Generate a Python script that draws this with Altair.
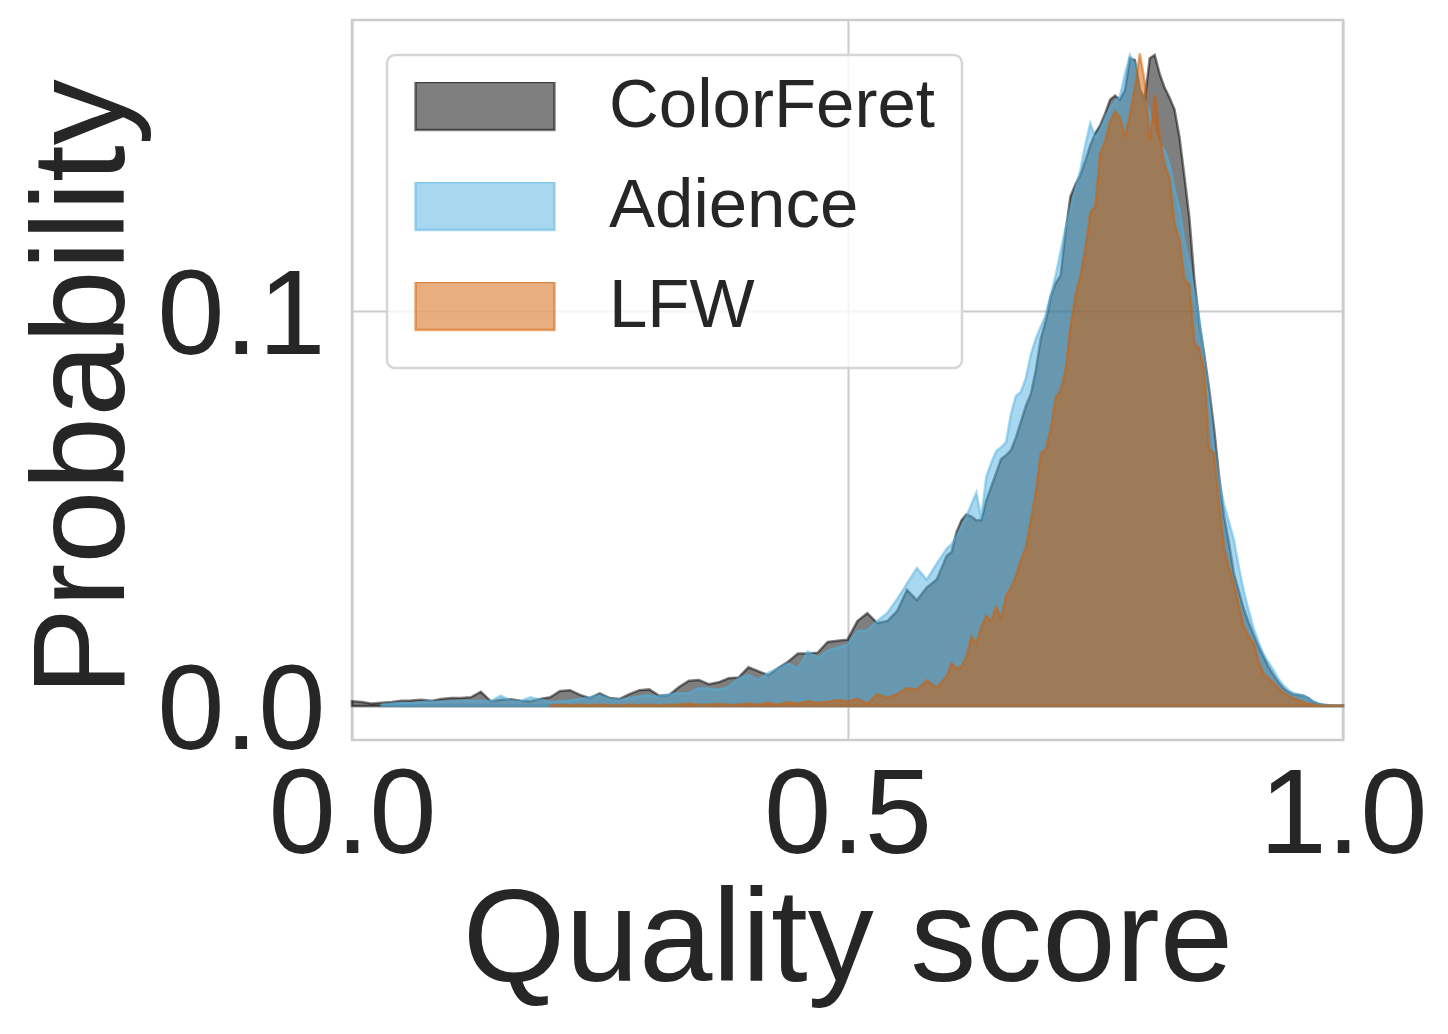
import altair as alt
import pandas as pd

# ---- data -------------------------------------------------------------
# x grid: 0.00 .. 0.59 step 0.01, then 0.600 .. 1.000 step 0.005
x_low = [round(i * 0.01, 3) for i in range(60)]
x_high = [round(0.6 + i * 0.005, 3) for i in range(81)]
x_grid = x_low + x_high

series_names = ["ColorFeret", "Adience", "LFW"]
# half-transparent colours (fill and edge each at 50 %)
series_colors = ["rgba(0,0,0,0.5)", "rgba(81,177,225,0.5)", "rgba(209,93,1,0.5)"]

colorferet_low = [
    0.0012, 0.0010, 0.0006, 0.0008, 0.0010, 0.0013, 0.0014, 0.0016, 0.0013, 0.0018,
    0.0020, 0.0020, 0.0022, 0.0036, 0.0012, 0.0016, 0.0017, 0.0013, 0.0012, 0.0018,
    0.0022, 0.0038, 0.0040, 0.0028, 0.0020, 0.0032, 0.0020, 0.0018, 0.0030, 0.0040,
    0.0042, 0.0026, 0.0028, 0.0048, 0.0064, 0.0066, 0.0055, 0.0060, 0.0070, 0.0072,
    0.0098, 0.0088, 0.0078, 0.0096, 0.0112, 0.0133, 0.0133, 0.0135, 0.0162, 0.0165,
    0.0168, 0.0215, 0.0235, 0.0210, 0.0215, 0.0240, 0.0294, 0.0268, 0.0300, 0.0320,
]
colorferet_high = [
    0.0380, 0.0390, 0.0440, 0.0470, 0.0485, 0.0480, 0.0470, 0.0470, 0.0520, 0.0555,
    0.0590, 0.0625, 0.0635, 0.0648, 0.0680, 0.0720, 0.0760, 0.0790, 0.0850, 0.0930,
    0.0975, 0.1035, 0.1070, 0.1090, 0.1200, 0.1290, 0.1320, 0.1345, 0.1380, 0.1420,
    0.1450, 0.1470, 0.1500, 0.1535, 0.1545, 0.1535, 0.1560, 0.1640, 0.1635, 0.1560,
    0.1535, 0.1640, 0.1648, 0.1600, 0.1565, 0.1540, 0.1510, 0.1440, 0.1340, 0.1235,
    0.1080, 0.0970, 0.0890, 0.0800, 0.0700, 0.0580, 0.0480, 0.0412, 0.0335, 0.0290,
    0.0245, 0.0210, 0.0180, 0.0150, 0.0125, 0.0098, 0.0078, 0.0060, 0.0045, 0.0036,
    0.0030, 0.0028, 0.0026, 0.0020, 0.0010, 0.0006, 0.0003, 0.0002, 0.0001, 0.0001,
    0.0001,
]

adience_low = [
    None, None, None, 0.0004, 0.0006, 0.0008, 0.0007, 0.0010, 0.0012, 0.0010,
    0.0012, 0.0013, 0.0013, 0.0014, 0.0012, 0.0026, 0.0014, 0.0012, 0.0022, 0.0016,
    0.0010, 0.0012, 0.0014, 0.0018, 0.0022, 0.0028, 0.0018, 0.0016, 0.0020, 0.0025,
    0.0027, 0.0024, 0.0030, 0.0032, 0.0033, 0.0045, 0.0044, 0.0042, 0.0048, 0.0070,
    0.0078, 0.0066, 0.0084, 0.0095, 0.0108, 0.0095, 0.0138, 0.0122, 0.0140, 0.0148,
    0.0155, 0.0190, 0.0192, 0.0215, 0.0235, 0.0270, 0.0310, 0.0349, 0.0320, 0.0360,
]
adience_high = [
    0.0398, 0.0410, 0.0430, 0.0455, 0.0480, 0.0510, 0.0540, 0.0475, 0.0580, 0.0615,
    0.0645, 0.0655, 0.0668, 0.0740, 0.0785, 0.0795, 0.0830, 0.0890, 0.0930, 0.0960,
    0.0990, 0.1040, 0.1090, 0.1150, 0.1210, 0.1260, 0.1310, 0.1357, 0.1420, 0.1475,
    0.1440, 0.1460, 0.1490, 0.1515, 0.1530, 0.1545, 0.1600, 0.1648, 0.1625, 0.1560,
    0.1535, 0.1505, 0.1450, 0.1420, 0.1408, 0.1370, 0.1310, 0.1260, 0.1180, 0.1120,
    0.1050, 0.0980, 0.0880, 0.0780, 0.0660, 0.0570, 0.0510, 0.0465, 0.0420, 0.0350,
    0.0290, 0.0240, 0.0195, 0.0160, 0.0130, 0.0110, 0.0090, 0.0068, 0.0052, 0.0040,
    0.0032, 0.0030, 0.0026, 0.0020, 0.0012, 0.0006, 0.0003, 0.0002, 0.0001, 0.0001,
    0.0001,
]

lfw_low = [
    None, None, None, None, None, None, None, None, None, None,
    None, None, None, None, None, None, None, None, None, None,
    0.0002, 0.0003, 0.0002, 0.0003, 0.0002, 0.0003, 0.0002, 0.0002, 0.0003, 0.0002,
    0.0003, 0.0002, 0.0003, 0.0004, 0.0006, 0.0003, 0.0004, 0.0005, 0.0003, 0.0004,
    0.0006, 0.0004, 0.0008, 0.0004, 0.0010, 0.0006, 0.0012, 0.0008, 0.0011, 0.0015,
    0.0012, 0.0018, 0.0006, 0.0030, 0.0021, 0.0030, 0.0045, 0.0042, 0.0065, 0.0046,
]
lfw_high = [
    0.0075, 0.0108, 0.0095, 0.0100, 0.0125, 0.0176, 0.0159, 0.0200, 0.0228, 0.0216,
    0.0251, 0.0222, 0.0280, 0.0300, 0.0330, 0.0370, 0.0402, 0.0470, 0.0540, 0.0639,
    0.0650, 0.0700, 0.0780, 0.0800, 0.0850, 0.0960, 0.1040, 0.1090, 0.1156, 0.1250,
    0.1265, 0.1400, 0.1430, 0.1480, 0.1505, 0.1490, 0.1440, 0.1500, 0.1565, 0.1652,
    0.1580, 0.1430, 0.1547, 0.1440, 0.1370, 0.1336, 0.1220, 0.1180, 0.1080, 0.1067,
    0.0920, 0.0905, 0.0850, 0.0650, 0.0640, 0.0510, 0.0400, 0.0350, 0.0310, 0.0253,
    0.0200, 0.0175, 0.0160, 0.0110, 0.0082, 0.0070, 0.0058, 0.0045, 0.0033, 0.0026,
    0.0020, 0.0014, 0.0010, 0.0006, 0.0004, 0.0002, 0.0001, 0.0001, 0.0001, 0.0001,
    0.0001,
]

x_ticks = [0.0, 0.5, 1.0]
y_ticks = [0.0, 0.1]

series_values = {
    "ColorFeret": colorferet_low + colorferet_high,
    "Adience": adience_low + adience_high,
    "LFW": lfw_low + lfw_high,
}

rows = []
for name in series_names:
    for xv, yv in zip(x_grid, series_values[name]):
        if yv is not None:
            rows.append({"x": xv, "y": yv, "base": 0.0, "series": name})
df = pd.DataFrame(rows)

# ---- chart ------------------------------------------------------------
FONT = "Liberation Sans"
TEXT = "#262626"

cscale = alt.Scale(domain=series_names, range=series_colors)
xscale = alt.Scale(domain=[0, 1], nice=False, zero=False)
yscale = alt.Scale(domain=[-0.00861, 0.17367], nice=False, zero=False)

legend = alt.Legend(
    title=None,
    orient="none",
    legendX=35,
    legendY=35,
    symbolType="M-1,-0.345H1V0.345H-1Z",
    symbolSize=19321,
    symbolStrokeWidth=2.5,
    symbolOpacity=1,
    labelFontSize=69,
    labelFont=FONT,
    labelColor=TEXT,
    labelLimit=0,
    labelOffset=53,
    rowPadding=31,
    padding=27,
    cornerRadius=8,
    fillColor="rgba(255,255,255,0.8)",
    strokeColor="#d6d6d6",
    clipHeight=48,
)

x_axis = alt.Axis(
    values=x_ticks, format=".1f", title="Quality score",
    titleX=495.5, titleY=240, titleAlign="center", titleBaseline="alphabetic",
    labelPadding=16,
)
y_axis = alt.Axis(
    values=y_ticks, format=".1f", title="Probability",
    titleX=-229, titleY=367, titleAngle=270, titleAlign="center",
    titleBaseline="alphabetic", labelPadding=27, labelOffset=7,
    labelBaseline="middle",
)


def layer(name):
    return (
        alt.Chart(df)
        .transform_filter(alt.datum.series == name)
        .mark_area(strokeWidth=2.5, interpolate="linear")
        .encode(
            x=alt.X("x:Q", scale=xscale, axis=x_axis),
            y=alt.Y("y:Q", scale=yscale, axis=y_axis, stack=None),
            y2="base:Q",
            fill=alt.Fill("series:N", scale=cscale, legend=legend),
            stroke=alt.Stroke("series:N", scale=cscale, legend=legend),
        )
    )


chart = (
    alt.layer(*[layer(n) for n in series_names])
    .properties(
        width=991,
        height=720,
        autosize=alt.AutoSizeParams(type="none"),
        padding={"left": 344, "top": 12, "right": 95, "bottom": 280},
        background="white",
    )
    .configure_view(stroke="#cccccc", strokeWidth=2.5)
    .configure_axis(
        labelFont=FONT,
        labelFontSize=121,
        labelColor=TEXT,
        labelFlush=False,
        labelOverlap=False,
        titleFont=FONT,
        titleFontSize=132,
        titleFontWeight="normal",
        titleColor=TEXT,
        ticks=False,
        tickSize=0,
        domain=False,
        grid=True,
        gridColor="#cccccc",
        gridWidth=2,
    )
    .configure_legend(strokeWidth=2.5)
)

chart.save("out.html", embed_options={"renderer": "svg", "actions": False})
